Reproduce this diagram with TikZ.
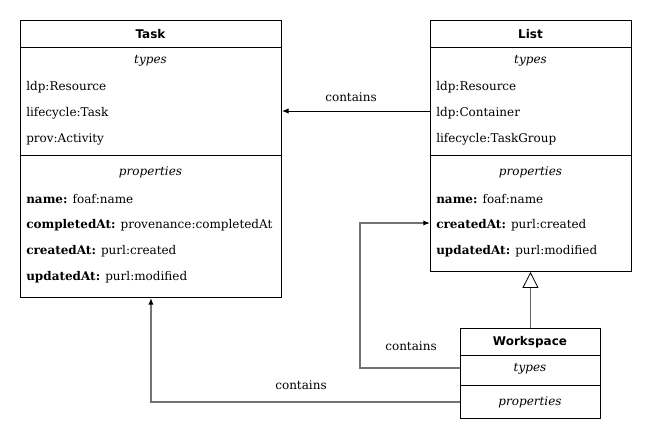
\documentclass[tikz,border=0pt]{standalone}
\usepackage{fontspec}
\setmainfont{DejaVu Serif}
\setsansfont{DejaVu Sans}
\usetikzlibrary{arrows.meta}

\tikzset{
  classbox/.style={draw, line width=0.7pt, inner sep=0pt, anchor=north west},
  sep/.style={line width=0.7pt},
  title/.style={font=\sffamily\bfseries\fontsize{9}{11}\selectfont},
  head/.style={font=\itshape\fontsize{9}{11}\selectfont},
  row/.style={anchor=west, inner sep=0pt, font=\fontsize{9}{11}\selectfont},
  lbl/.style={font=\fontsize{9}{11}\selectfont},
  assoc/.style={line width=0.7pt, -{Latex[length=5pt,width=4pt]}},
  link/.style={draw=black!55, line width=1pt, -{Latex[black,length=5pt,width=4pt]}},
  inherit/.style={draw=black!60, line width=1.3pt, -{Triangle[open,length=12pt,width=12pt,fill=white,color=black,line width=0.6pt]}}
}

\begin{document}
\begin{tikzpicture}[x=0.75pt,y=-0.75pt]
\useasboundingbox (0,0) rectangle (651,440);

% Task
\node[classbox, minimum width=195.75pt, minimum height=207.75pt] (task) at (20,20) {};
\draw[sep] (20,47) -- (281,47);
\draw[sep] (20,155) -- (281,155);
\node[title] (task-title) at (150.5,34) {Task};
\node[head] (task-types) at (150.5,61) {types};
\node[row] (task-t1) at (26,87) {ldp:Resource};
\node[row] (task-t2) at (26,113) {lifecycle:Task};
\node[row] (task-t3) at (26,139) {prov:Activity};
\node[head] (task-props) at (150.5,172) {properties};
\node[row] (task-p1) at (26,199) {\textbf{name:} foaf:name};
\node[row] (task-p2) at (26,225) {\textbf{completedAt:} provenance:completedAt};
\node[row] (task-p3) at (26,251) {\textbf{createdAt:} purl:created};
\node[row] (task-p4) at (26,277) {\textbf{updatedAt:} purl:modified};

% List
\node[classbox, minimum width=150.75pt, minimum height=188.25pt] (list) at (430,20) {};
\draw[sep] (430,47) -- (631,47);
\draw[sep] (430,155) -- (631,155);
\node[title] (list-title) at (530.5,34) {List};
\node[head] (list-types) at (530.5,61) {types};
\node[row] (list-t1) at (436,87) {ldp:Resource};
\node[row] (list-t2) at (436,113) {ldp:Container};
\node[row] (list-t3) at (436,139) {lifecycle:TaskGroup};
\node[head] (list-props) at (530.5,172) {properties};
\node[row] (list-p1) at (436,199) {\textbf{name:} foaf:name};
\node[row] (list-p2) at (436,225) {\textbf{createdAt:} purl:created};
\node[row] (list-p3) at (436,251) {\textbf{updatedAt:} purl:modified};

% Workspace
\node[classbox, minimum width=105pt, minimum height=67.5pt] (ws) at (460,328) {};
\draw[sep] (460,355) -- (600,355);
\draw[sep] (460,385) -- (600,385);
\node[title] (ws-title) at (530,342) {Workspace};
\node[head] (ws-types) at (530,369) {types};
\node[head] (ws-props) at (530,402) {properties};

% connectors
\draw[assoc] (list.west |- 0,111) -- (task.east |- 0,111);
\node[lbl] (c-list-task) at (351,97) {contains};
\draw[link] (ws.west |- 0,368) -- ++(-100,0) |- (list.west |- 0,223);
\node[lbl] (c-ws-list) at (411,346) {contains};
\draw[link] (ws.west |- 0,402) -| (task.south);
\node[lbl] (c-ws-task) at (301,385) {contains};
\draw[inherit] (ws.north) -- (ws.north |- list.south);
\end{tikzpicture}
\end{document}
